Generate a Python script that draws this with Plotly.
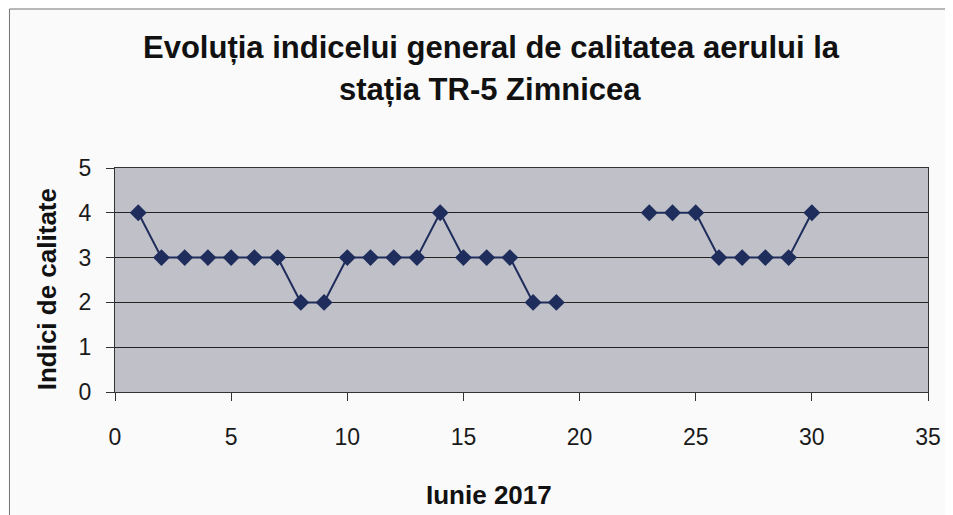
import plotly.graph_objects as go

days = list(range(1, 31))
indici = [4, 3, 3, 3, 3, 3, 3, 2, 2, 3, 3, 3, 3, 4, 3, 3, 3, 2, 2,
          None, None, None, 4, 4, 4, 3, 3, 3, 3, 4]
x_ticks = [0, 5, 10, 15, 20, 25, 30, 35]
y_ticks = [0, 1, 2, 3, 4, 5]

title_lines = ["Evoluția indicelui general de calitatea aerului la", "stația TR-5 Zimnicea"]
x_title = "Iunie 2017"
y_title = "Indici de calitate"

OFF = 8  # page body margin
W, H = 953 - OFF, 515 - OFF
L, R, T, B = 115 - OFF, 21, 168 - OFF, 123
pw = W - L - R
ph = H - T - B

def px(xpix):
    return (xpix - OFF - L) / pw

def py(ypix):
    return (H - B - (ypix - OFF)) / ph

font_family = "Liberation Sans, Arial, sans-serif"
navy = "#1f2d5c"

fig = go.Figure()
fig.add_trace(go.Scatter(
    x=days, y=indici, mode="lines+markers",
    line=dict(color=navy, width=2),
    marker=dict(symbol="diamond", size=13, color=navy),
    connectgaps=False, showlegend=False,
))

fig.update_layout(
    width=W, height=H,
    margin=dict(l=L, r=R, t=T, b=B),
    paper_bgcolor="#fafafa",
    plot_bgcolor="#bfc0c8",
    font=dict(family=font_family, size=22, color="#1a1a1a"),
    showlegend=False,
)

fig.update_xaxes(
    range=[0, 35], tickvals=x_ticks, showgrid=False, zeroline=False,
    showline=True, linecolor="#333333", linewidth=1, mirror=True,
    ticks="outside", ticklen=8, tickcolor="#333333",
    ticklabelstandoff=16, tickfont=dict(size=23),
)
fig.update_yaxes(
    range=[0, 5], tickvals=y_ticks, showgrid=True, gridcolor="#222222", gridwidth=1,
    zeroline=False, showline=True, linecolor="#333333", linewidth=1, mirror=True,
    ticks="outside", ticklen=8, tickcolor="#333333",
    ticklabelstandoff=10, tickfont=dict(size=23),
)

annotations = [
    dict(text="<b>" + title_lines[0] + "</b>", x=px(493), y=py(48), xref="paper", yref="paper",
         showarrow=False, font=dict(size=31, family=font_family, color="#111111"),
         xanchor="center", yanchor="middle"),
    dict(text="<b>" + title_lines[1] + "</b>", x=px(492), y=py(90), xref="paper", yref="paper",
         showarrow=False, font=dict(size=31, family=font_family, color="#111111"),
         xanchor="center", yanchor="middle"),
    dict(text="<b>" + x_title + "</b>", x=px(491), y=py(495), xref="paper", yref="paper",
         showarrow=False, font=dict(size=26, family=font_family, color="#111111"),
         xanchor="center", yanchor="middle"),
    dict(text="<b>" + y_title + "</b>", x=px(47), y=py(289), xref="paper", yref="paper",
         showarrow=False, textangle=-90, font=dict(size=26, family=font_family, color="#111111"),
         xanchor="center", yanchor="middle"),
]
fig.update_layout(annotations=annotations)

fig.add_shape(type="rect", xref="paper", yref="paper",
              x0=px(OFF + 1), x1=px(970), y0=py(540), y1=py(OFF + 1),
              line=dict(color="#777777", width=1), fillcolor="rgba(0,0,0,0)", layer="below")

fig.write_html("out.html")
